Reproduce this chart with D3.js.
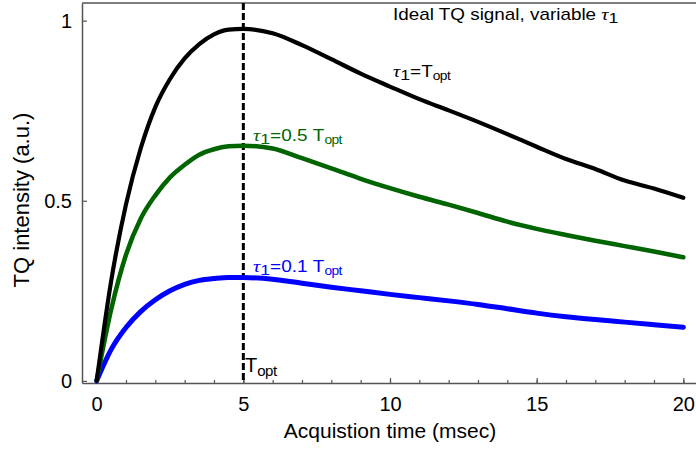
<!DOCTYPE html>
<html>
<head>
<meta charset="utf-8">
<script src="https://cdn.jsdelivr.net/npm/d3@7"></script>
<style>
  body { margin: 0; background: #fff; }
  svg { display: block; font-family: "Liberation Sans", Arial, sans-serif; }
</style>
</head>
<body>
<div id="chart"></div>
<script>
// acquisition time (msec)
const time = [0, 0.5, 1, 1.5, 2, 2.5, 3, 3.5, 4, 4.5, 5, 6, 7, 8, 9, 10, 11, 12, 13, 14, 15, 16, 17, 18, 19, 20]
// TQ intensity for tau1 = Topt, 0.5 Topt, 0.1 Topt
const tauFull = [0, 0.28, 0.49, 0.645, 0.76, 0.838, 0.895, 0.935, 0.962, 0.975, 0.977, 0.965, 0.932, 0.893, 0.853, 0.817, 0.782, 0.751, 0.719, 0.685, 0.650, 0.616, 0.588, 0.556, 0.534, 0.508]
const tauHalf = [0, 0.20, 0.35, 0.45, 0.515, 0.565, 0.60, 0.628, 0.643, 0.651, 0.653, 0.645, 0.618, 0.59, 0.561, 0.535, 0.511, 0.489, 0.466, 0.442, 0.422, 0.405, 0.389, 0.374, 0.359, 0.343]
const tauTenth = [0, 0.088, 0.148, 0.192, 0.225, 0.250, 0.268, 0.279, 0.284, 0.287, 0.287, 0.282, 0.271, 0.260, 0.250, 0.240, 0.231, 0.222, 0.212, 0.200, 0.188, 0.178, 0.170, 0.163, 0.156, 0.149]
const xTicks = [0, 5, 10, 15, 20]
const yTicks = [0, 0.5, 1]
const tOpt = 5

const dimensions = {
    width: 696,
    height: 449,
    left: 82,
    right: 698,
    top: 3,
    bottom: 383
}

const svg = d3.select('#chart')
    .append('svg')
    .attr('width', dimensions.width)
    .attr('height', dimensions.height)

const xScale = d3.scaleLinear().domain([-0.5, 20.5]).range([dimensions.left, dimensions.right])
const yScale = d3.scaleLinear().domain([-0.006, 1.049]).range([dimensions.bottom, dimensions.top])

const axisColor = '#555'
const tickFont = '20px'

// frame top line
svg.append('line')
    .attr('x1', dimensions.left).attr('x2', dimensions.right)
    .attr('y1', dimensions.top).attr('y2', dimensions.top)
    .attr('stroke', axisColor).attr('stroke-width', 1.5)

// minor x ticks
svg.append('g')
    .attr('transform', `translate(0,${dimensions.bottom})`)
    .call(d3.axisBottom(xScale).tickValues(d3.range(0, 21)).tickSize(-3).tickSizeOuter(0).tickFormat(''))
    .call(g => g.select('.domain').remove())
    .call(g => g.selectAll('line').attr('stroke', axisColor).attr('stroke-width', 1.2))

// x axis
svg.append('g')
    .attr('transform', `translate(0,${dimensions.bottom})`)
    .call(d3.axisBottom(xScale).tickValues(xTicks).tickSize(-5).tickSizeOuter(0).tickPadding(14).tickFormat(d => d))
    .call(g => g.select('.domain').attr('stroke', axisColor).attr('stroke-width', 1.5))
    .call(g => g.selectAll('line').attr('stroke', axisColor).attr('stroke-width', 1.2))
    .call(g => g.selectAll('text').attr('fill', '#000').style('font-size', tickFont).style('font-family', '"Liberation Sans", Arial, sans-serif'))

// y axis
svg.append('g')
    .attr('transform', `translate(${dimensions.left},0)`)
    .call(d3.axisLeft(yScale).tickValues(yTicks).tickSize(-5).tickSizeOuter(0).tickPadding(10).tickFormat(d => d))
    .call(g => g.select('.domain').attr('stroke', axisColor).attr('stroke-width', 1.5))
    .call(g => g.selectAll('line').attr('stroke', axisColor).attr('stroke-width', 1.2))
    .call(g => g.selectAll('text').attr('fill', '#000').style('font-size', tickFont).style('font-family', '"Liberation Sans", Arial, sans-serif'))

// axis titles
svg.append('text')
    .attr('x', 390).attr('y', 438)
    .attr('text-anchor', 'middle')
    .style('font-size', '21px')
    .text('Acquistion time (msec)')

svg.append('text')
    .attr('transform', 'translate(29,200) rotate(-90)')
    .attr('text-anchor', 'middle')
    .style('font-size', '22px')
    .text('TQ intensity (a.u.)')

// vertical dashed line at Topt
svg.append('line')
    .attr('x1', xScale(tOpt)).attr('x2', xScale(tOpt))
    .attr('y1', dimensions.top).attr('y2', dimensions.bottom)
    .attr('stroke', '#000').attr('stroke-width', 3)
    .attr('stroke-dasharray', '7,3')

// curves
const series = [
    { values: tauTenth, color: '#0000ff', width: 5 },
    { values: tauHalf, color: '#006400', width: 4.5 },
    { values: tauFull, color: '#000000', width: 4.2 }
]

const line = d3.line()
    .x((d, i) => xScale(time[i]))
    .y(d => yScale(d))
    .curve(d3.curveMonotoneX)

svg.append('g')
    .selectAll('path')
    .data(series)
    .join('path')
    .attr('d', d => line(d.values))
    .attr('fill', 'none')
    .attr('stroke', d => d.color)
    .attr('stroke-width', d => d.width)
    .attr('stroke-linecap', 'round')
    .attr('stroke-linejoin', 'round')

// labels with tau and subscripts (reference text is a bit stretched sideways)
function tauLabel (x, y, size, color, suffix, sub) {
    const t = svg.append('text')
        .attr('transform', `translate(${x},${y}) scale(1.15,1)`)
        .attr('fill', color)
        .style('font-size', size + 'px')
    t.append('tspan').text('τ').style('font-style', 'italic').style('font-family', '"Liberation Serif", serif').style('font-size', (size + 1) + 'px')
    t.append('tspan').text('1').attr('dy', 3).style('font-size', (size - 1) + 'px')
    t.append('tspan').text(suffix).attr('dy', -3)
    if (sub) {
        t.append('tspan').text(sub).attr('dy', 3).style('font-size', Math.round(size * 0.72) + 'px').style('letter-spacing', '-0.5px')
    }
    return t
}

// header
const head = svg.append('text')
    .attr('transform', 'translate(393,20) scale(1.18,1)')
    .style('font-size', '16px')
head.append('tspan').text('Ideal TQ signal, variable ')
head.append('tspan').text('τ').style('font-style', 'italic').style('font-family', '"Liberation Serif", serif').style('font-size', '17px')
head.append('tspan').text('1').attr('dy', 2.5).style('font-size', '15px')

tauLabel(393, 77, 16.5, '#000', '=T', 'opt')
tauLabel(253, 141, 16.5, '#006400', '=0.5 T', 'opt')
tauLabel(253, 272, 16.5, '#0000ff', '=0.1 T', 'opt')

// Topt marker
const tl = svg.append('text')
    .attr('x', 245).attr('y', 372)
    .style('font-size', '20px')
tl.append('tspan').text('T')
tl.append('tspan').text('opt').attr('dy', 4).style('font-size', '15px').style('letter-spacing', '-0.5px')
</script>
</body>
</html>
